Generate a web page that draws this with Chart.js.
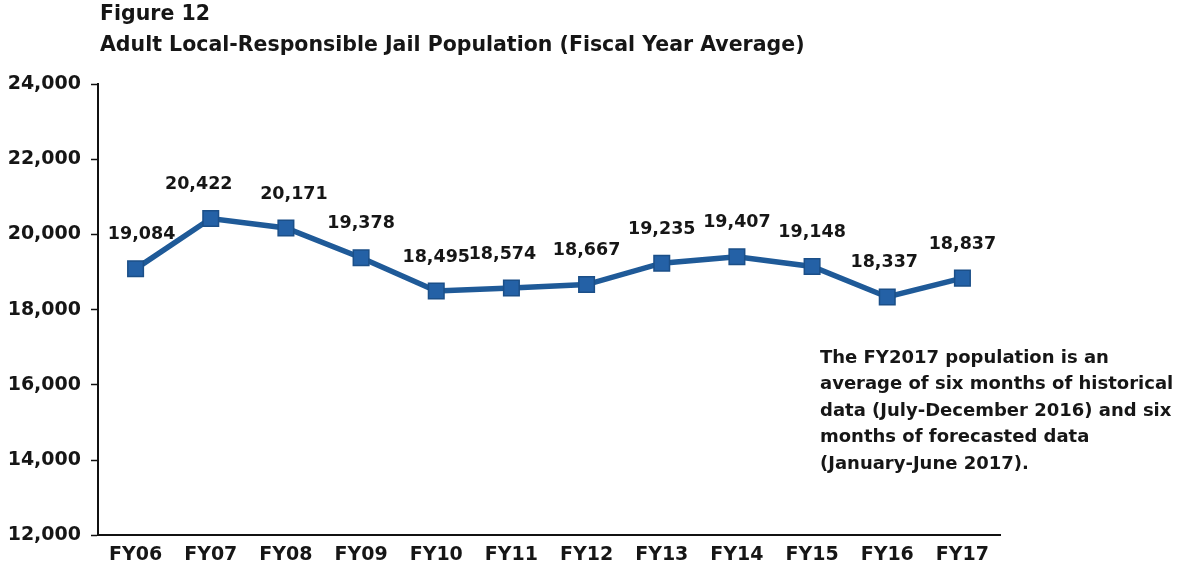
<!DOCTYPE html>
<html>
<head>
<meta charset="utf-8">
<script src="https://cdn.jsdelivr.net/npm/chart.js@4.4.1/dist/chart.umd.min.js"></script>
<style>
html, body { margin: 0; padding: 0; background: #fff; }
</style>
</head>
<body>
<canvas id="jailChart" width="1189" height="573"></canvas>
<script>
// fiscal years and average adult local-responsible jail population
var years = ['FY06', 'FY07', 'FY08', 'FY09', 'FY10', 'FY11', 'FY12', 'FY13', 'FY14', 'FY15', 'FY16', 'FY17'];
var population = [19084, 20422, 20171, 19378, 18495, 18574, 18667, 19235, 19407, 19148, 18337, 18837];
var yMin = 12000, yMax = 24000, yStep = 2000;

var titleLines = ['Figure 12', 'Adult Local-Responsible Jail Population (Fiscal Year Average)'];
var noteLines = [
	'The FY2017 population is an',
	'average of six months of historical',
	'data (July-December 2016) and six',
	'months of forecasted data',
	'(January-June 2017).'
];

var FONT = '"DejaVu Sans", Arial, sans-serif';

function fmt(v) {
	return v.toLocaleString('en-US');
}

// title, value labels and the FY2017 note
var textPlugin = {
	id: 'textPlugin',
	afterDatasetsDraw: function(chart, args, opts) {
		var ctx = chart.ctx;
		var area = chart.chartArea;
		ctx.save();
		ctx.fillStyle = '#161616';

		// heading
		ctx.font = 'bold 20.5px ' + FONT;
		ctx.textAlign = 'left';
		ctx.textBaseline = 'middle';
		ctx.fillText(titleLines[0], area.left + 2, 15);
		ctx.fillText(titleLines[1], area.left + 2, 46);

		// values above the markers
		ctx.font = 'bold 17.5px ' + FONT;
		ctx.textAlign = 'center';
		var pts = chart.getDatasetMeta(0).data;
		for (var i = 0; i < pts.length; i++) {
			var dx = opts.shift[i] || 0;
			ctx.fillText(fmt(population[i]), pts[i].x + dx, pts[i].y - 34);
		}

		// note on the right
		ctx.font = 'bold 18px ' + FONT;
		ctx.textAlign = 'left';
		for (var j = 0; j < noteLines.length; j++) {
			ctx.fillText(noteLines[j], 820, 358 + j * 26.5);
		}
		ctx.restore();
	}
};

var ctx = document.getElementById('jailChart').getContext('2d');
var jailChart = new Chart(ctx, {
	type: 'line',
	data: {
		labels: years,
		datasets: [{
			label: 'Jail population',
			data: population,
			borderColor: '#1f5a98',
			borderWidth: 5.5,
			tension: 0,
			pointStyle: 'rect',
			pointRadius: 11,
			pointBackgroundColor: '#2461a6',
			pointBorderColor: '#1b4f88',
			pointBorderWidth: 1.5
		}]
	},
	options: {
		responsive: false,
		animation: false,
		layout: {
			padding: { top: 84, left: 0, right: 189, bottom: -1 }
		},
		plugins: {
			legend: { display: false },
			tooltip: { enabled: false },
			textPlugin: {
				shift: [6, -12, 8, 0, 0, -9, 0, 0, 0, 0, -3, 0]
			}
		},
		scales: {
			x: {
				offset: true,
				grid: { display: false, drawTicks: false },
				border: { color: '#111', width: 2 },
				ticks: {
					color: '#161616',
					padding: 8,
					font: { family: FONT, size: 19, weight: 'bold' }
				}
			},
			y: {
				min: yMin,
				max: yMax,
				afterFit: function(scale) { scale.width = 98; },
				grid: { drawOnChartArea: false, tickLength: 7, color: '#111', tickWidth: 1.5 },
				border: { color: '#111', width: 2 },
				ticks: {
					stepSize: yStep,
					color: '#161616',
					padding: 10,
					font: { family: FONT, size: 19, weight: 'bold' },
					callback: function(v) { return fmt(v); }
				}
			}
		}
	},
	plugins: [textPlugin]
});
</script>
</body>
</html>
